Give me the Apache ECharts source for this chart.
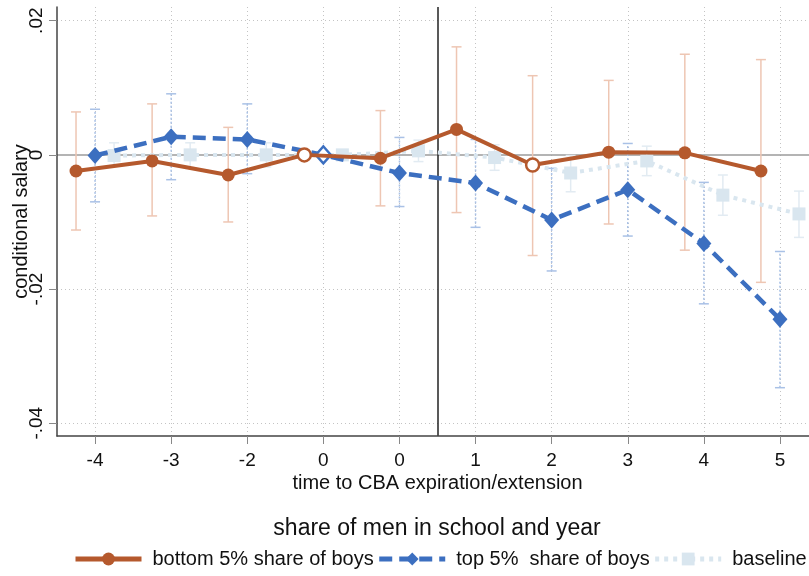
<!DOCTYPE html>
<html>
<head>
<meta charset="utf-8">
<script src="https://cdn.jsdelivr.net/npm/echarts@6/dist/echarts.min.js"></script>
<style>
html,body{margin:0;padding:0;background:#fff;}
#c{width:809px;height:576px;}
</style>
</head>
<body>
<div id="c"></div>
<script>
// ---- data ----
const xTickLabels = ['-4','-3','-2','0','0','1','2','3','4','5'];
const xTickPos = [1,2,3,4,5,6,7,8,9,10];
const yTicks = [-0.04, -0.02, 0, 0.02];
const yTickLabels = ['-.04', '-.02', '0', '.02'];

const bottom5   = [-0.0024, -0.0009, -0.0030, 0.0000, -0.0005, 0.0038, -0.0015, 0.0004, 0.0003, -0.0024];
const bottom5Lo = [-0.0112, -0.0091, -0.0100, null, -0.0076, -0.0086, -0.0150, -0.0103, -0.0142, -0.0190];
const bottom5Hi = [ 0.0064,  0.0076,  0.0041, null,  0.0066,  0.0161,  0.0118,  0.0111,  0.0150,  0.0142];

const top5   = [-0.0001, 0.0027, 0.0023, 0.0000, -0.0027, -0.0042, -0.0097, -0.0052, -0.0132, -0.0245];
const top5Lo = [-0.0070, -0.0037, -0.0028, null, -0.0077, -0.0108, -0.0173, -0.0121, -0.0222, -0.0347];
const top5Hi = [ 0.0068,  0.0091,  0.0076, null,  0.0026,  0.0023, -0.0020,  0.0017, -0.0041, -0.0144];

const base   = [-0.0001, 0.0000, 0.0000, 0.0000, 0.0006, -0.0004, -0.0027, -0.0009, -0.0060, -0.0088];
const baseLo = [-0.0016, -0.0020, -0.0018, null, -0.0010, -0.0023, -0.0055, -0.0031, -0.0090, -0.0123];
const baseHi = [ 0.0018,  0.0018,  0.0018, null,  0.0022,  0.0015, -0.0001,  0.0013, -0.0030, -0.0054];

const seriesNames = ['bottom 5% share of boys', 'top 5%  share of boys', 'baseline'];
const legendTitle = 'share of men in school and year';
const xName = 'time to CBA expiration/extension';
const yName = 'conditional salary';
const eventLine = 5.5;

// ---- styling / helpers ----
const FONT = '"Liberation Sans", Arial, Helvetica, sans-serif';
const C_OR = '#b5592d', C_OR_CI = '#eec6b3';
const C_BL = '#3c6fc0', C_BL_CI = '#a9c1e6';
const C_BA = '#d9e6ef', C_BA_CI = '#e2ebf2';
const hollowBottom = [3, 6];
const hollowTop = [3];

function pts(vals, off, color, hollow) {
  return vals.map((v, i) => {
    const item = { value: [xTickPos[i] + off, v] };
    if (hollow && hollow.indexOf(i) >= 0) {
      item.itemStyle = { color: '#fff', borderColor: color, borderWidth: 2.5 };
    }
    return item;
  });
}

function ciSeries(lo, hi, off, color, dashed) {
  const data = [];
  lo.forEach((l, i) => { if (l != null) data.push([xTickPos[i] + off, l, hi[i]]); });
  return {
    type: 'custom', z: 1, silent: true, clip: false,
    encode: { x: 0, y: [1, 2] },
    data: data,
    renderItem: function (params, api) {
      const x = api.value(0);
      const a = api.coord([x, api.value(1)]);
      const b = api.coord([x, api.value(2)]);
      const w = 5;
      const st = { stroke: color, lineWidth: 1.5, fill: null };
      return {
        type: 'group',
        children: [
          { type: 'line', shape: { x1: a[0], y1: a[1], x2: b[0], y2: b[1] },
            style: Object.assign({}, st, dashed ? { lineDash: [2, 2] } : {}) },
          { type: 'line', shape: { x1: a[0] - w, y1: a[1], x2: a[0] + w, y2: a[1] }, style: st },
          { type: 'line', shape: { x1: b[0] - w, y1: b[1], x2: b[0] + w, y2: b[1] }, style: st }
        ]
      };
    }
  };
}

const chart = echarts.init(document.getElementById('c'), null, { renderer: 'canvas' });
const tickOf = (arr, labels, v) => {
  for (let i = 0; i < arr.length; i++) if (Math.abs(arr[i] - v) < 1e-6) return labels[i];
  return '';
};

chart.setOption({
  animation: false,
  textStyle: { fontFamily: FONT },
  title: {
    text: legendTitle, left: 437, top: 517, textAlign: 'center', padding: 0,
    textStyle: { fontSize: 23, fontWeight: 'normal', color: '#111', fontFamily: FONT }
  },
  legend: {
    data: seriesNames, left: 73, top: 549, padding: 0,
    itemWidth: 66, itemHeight: 16, itemGap: 3,
    lineStyle: { width: 5 },
    textStyle: { fontSize: 20, color: '#111', fontFamily: FONT, padding: [0, 0, 0, 6] }
  },
  grid: { left: 57, right: -9, top: 7, bottom: 140, containLabel: false, outerBoundsMode: 'none' },
  xAxis: {
    type: 'value', min: 0.5, max: 10.5,
    name: xName, nameLocation: 'middle', nameGap: 37, nameMoveOverlap: false,
    nameTextStyle: { fontSize: 20, color: '#111', fontFamily: FONT },
    axisLine: { show: true, onZero: false, lineStyle: { color: '#444', width: 1.5 } },
    axisTick: { show: true, length: 8, customValues: xTickPos, lineStyle: { color: '#888', width: 1 } },
    axisLabel: { customValues: xTickPos, fontSize: 19, color: '#111', margin: 15,
      formatter: v => tickOf(xTickPos, xTickLabels, v) },
    splitLine: { show: false }
  },
  yAxis: {
    type: 'value', min: -0.0419, max: 0.02204,
    name: yName, nameLocation: 'middle', nameRotate: 90, nameGap: 26, nameMoveOverlap: false,
    nameTextStyle: { fontSize: 20, color: '#111', fontFamily: FONT },
    axisLine: { show: true, onZero: false, lineStyle: { color: '#444', width: 1.5 } },
    axisTick: { show: true, length: 8, customValues: yTicks, lineStyle: { color: '#888', width: 1 } },
    axisLabel: { customValues: yTicks, rotate: 90, fontSize: 19, color: '#111', margin: 11,
      formatter: v => tickOf(yTicks, yTickLabels, v) },
    splitLine: { show: false }
  },
  series: [
    {
      type: 'line', name: 'refs', data: [], silent: true, z: 0,
      markLine: {
        z: 0, silent: true, symbol: ['none', 'none'], label: { show: false },
        animation: false,
        data: []
          .concat(xTickPos.map(x => ({ xAxis: x, lineStyle: { color: '#c4c4c4', width: 1, type: [1, 3] } })))
          .concat(yTicks.filter(y => y !== 0).map(y => ({ yAxis: y, lineStyle: { color: '#c4c4c4', width: 1, type: [1, 3] } })))
          .concat([
            { yAxis: 0, lineStyle: { color: '#9b9b9b', width: 1.5, type: 'solid' } },
            { xAxis: eventLine, lineStyle: { color: '#222', width: 1.5, type: 'solid' } }
          ])
      }
    },
    ciSeries(baseLo, baseHi, 0.25, C_BA_CI, false),
    ciSeries(top5Lo, top5Hi, 0, C_BL_CI, true),
    ciSeries(bottom5Lo, bottom5Hi, -0.25, C_OR_CI, false),
    {
      type: 'line', name: seriesNames[2], z: 2,
      data: pts(base, 0.25, C_BA, null),
      symbol: 'rect', symbolSize: 13,
      itemStyle: { color: C_BA },
      lineStyle: { color: C_BA, width: 4, type: [4, 5] }
    },
    {
      type: 'line', name: seriesNames[1], z: 3,
      data: pts(top5, 0, C_BL, hollowTop),
      symbol: 'diamond', symbolSize: [15, 17],
      itemStyle: { color: C_BL },
      lineStyle: { color: C_BL, width: 4.5, type: [13, 7] }
    },
    {
      type: 'line', name: seriesNames[0], z: 4,
      data: pts(bottom5, -0.25, C_OR, hollowBottom),
      symbol: 'circle', symbolSize: 13,
      itemStyle: { color: C_OR },
      lineStyle: { color: C_OR, width: 4 }
    }
  ]
});
</script>
</body>
</html>
